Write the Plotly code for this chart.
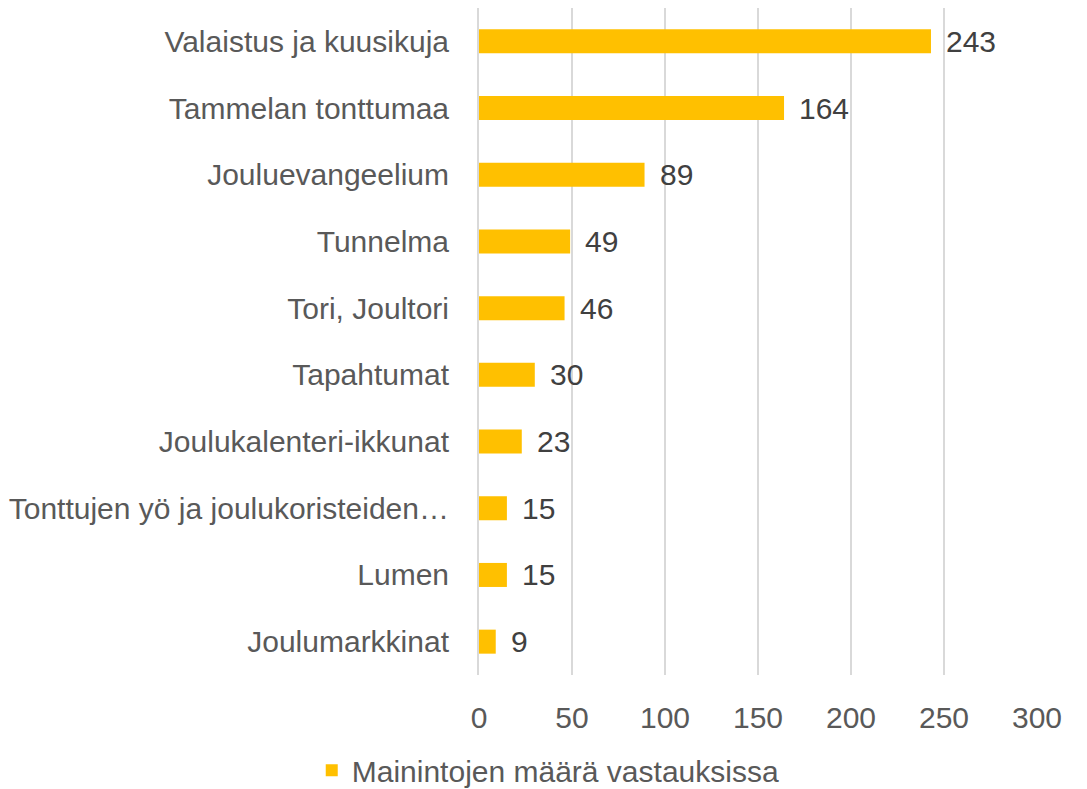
import plotly.graph_objects as go

categories = ["Valaistus ja kuusikuja", "Tammelan tonttumaa", "Jouluevangeelium", "Tunnelma",
              "Tori, Joultori", "Tapahtumat", "Joulukalenteri-ikkunat",
              "Tonttujen yö ja joulukoristeiden…", "Lumen", "Joulumarkkinat"]
values = [243, 164, 89, 49, 46, 30, 23, 15, 15, 9]
series_name = "Mainintojen määrä vastauksissa"
x_ticks = [0, 50, 100, 150, 200, 250, 300]

font_family = "Liberation Sans, Arial, sans-serif"
txt = "#595959"
fs = 30

fig = go.Figure()
fig.add_trace(go.Bar(
    y=categories, x=values, orientation="h", name=series_name,
    marker=dict(color="#FFC000", line=dict(width=0)),
    cliponaxis=False, showlegend=True,
))
for c, v in zip(categories, values):
    fig.add_annotation(x=v, y=c, xref="x", yref="y", text=str(v), showarrow=False,
                       xanchor="left", yanchor="middle", xshift=13,
                       font=dict(size=fs, color="#404040", family=font_family))
fig.update_layout(
    width=1087, height=789,
    margin=dict(l=471, r=58, t=0, b=122, autoexpand=False),
    paper_bgcolor="white", plot_bgcolor="white",
    font=dict(family=font_family, size=fs, color=txt),
    bargap=0.64,
    xaxis=dict(range=[0, 300], tickvals=x_ticks, showgrid=True, gridcolor="#D9D9D9",
               gridwidth=2, zeroline=False, showline=False, automargin=False,
               ticks="outside", ticklen=16, tickcolor="rgba(0,0,0,0)",
               tickfont=dict(size=fs, color=txt)),
    yaxis=dict(autorange="reversed", categoryorder="array", categoryarray=categories,
               showgrid=False, showline=True, linecolor="#D9D9D9", linewidth=2,
               automargin=False,
               ticks="outside", ticklen=22, tickcolor="rgba(0,0,0,0)",
               tickfont=dict(size=fs, color=txt)),
    legend=dict(orientation="h", xref="container", yref="container",
                x=0.497, y=0.034, xanchor="center", yanchor="middle",
                font=dict(size=fs, color=txt), itemwidth=30),
)
fig.write_html("out.html")
